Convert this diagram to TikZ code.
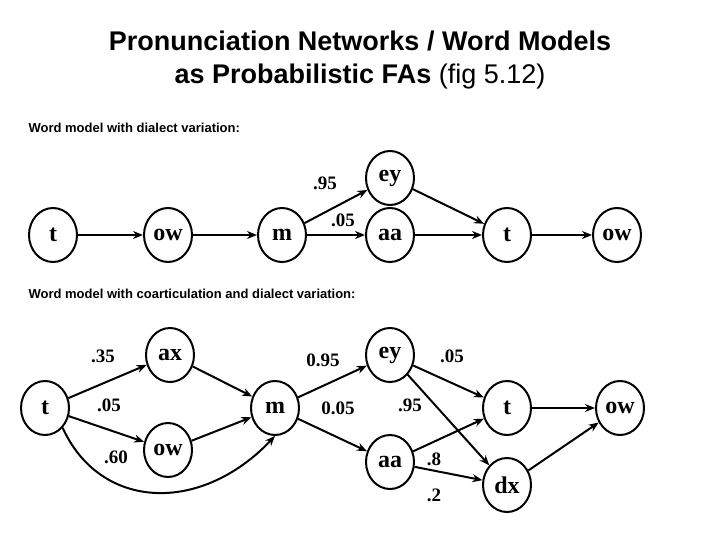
\documentclass[tikz,border=0pt]{standalone}
\usepackage{fontspec}
\setmainfont{Liberation Serif}
\newfontfamily\sans{Liberation Sans}
\usetikzlibrary{arrows.meta,shapes.geometric}
\begin{document}
\begin{tikzpicture}[x=1pt,y=-1pt,
  st/.style={draw,line width=2pt,ellipse,minimum width=48pt,minimum height=54pt,inner sep=0pt,font=\fontsize{24}{24}\selectfont\bfseries},
  pr/.style={font=\fontsize{19}{19}\selectfont\bfseries},
  tr/.style={-{Stealth[length=10pt,width=8pt]},line width=2pt}]
\useasboundingbox (0,0) rectangle (720,540);
\node[font=\sans\bfseries\fontsize{27}{33}\selectfont,align=center] (title) at (360,60) {Pronunciation Networks / Word Models\\as Probabilistic FAs {\mdseries (fig 5.12)}};
\node[anchor=west,font=\sans\bfseries\fontsize{13}{13}\selectfont] (cap1) at (25,128) {Word model with dialect variation:};
\node[anchor=west,font=\sans\bfseries\fontsize{13}{13}\selectfont] (cap2) at (25,294) {Word model with coarticulation and dialect variation:};
% dialect variation
\node[st] (a1) at (53,235) {t};
\node[st] (a2) at (168,235) {ow};
\node[st] (a3) at (282,235) {m};
\node[st] (a4) at (390,178) {ey};
\node[st] (a5) at (390,235) {aa};
\node[st] (a6) at (507,235) {t};
\node[st] (a7) at (617,235) {ow};
\draw[tr] (a1) -- (a2);
\draw[tr] (a2) -- (a3);
\draw[tr] (a3) -- (a4);
\draw[tr] (a3) -- (a5);
\draw[tr] (a4) -- (a6);
\draw[tr] (a5) -- (a6);
\draw[tr] (a6) -- (a7);
\node[pr] (p1) at (325,183) {.95};
\node[pr] (p2) at (343,220) {.05};
% coarticulation and dialect variation
\node[st] (b1) at (45,408) {t};
\node[st] (b2) at (170,355) {ax};
\node[st] (b3) at (168,450) {ow};
\node[st] (b4) at (275,408) {m};
\node[st] (b5) at (390,355) {ey};
\node[st] (b6) at (390,462) {aa};
\node[st] (b7) at (507,408) {t};
\node[st] (b8) at (507,485) {dx};
\node[st] (b9) at (620,408) {ow};
\draw[tr] (b1) -- (b2);
\draw[tr] (b1) -- (b3);
\draw[tr] (b1.south east) .. controls (100,510) and (200,515) .. (b4.south);
\draw[tr] (b2) -- (b4);
\draw[tr] (b3) -- (b4);
\draw[tr] (b4) -- (b5);
\draw[tr] (b4) -- (b6);
\draw[tr] (b5) -- (b7);
\draw[tr] (b5) -- (b8);
\draw[tr] (b6) -- (b7);
\draw[tr] (b6) -- (b8);
\draw[tr] (b7) -- (b9);
\draw[tr] (b8) -- (b9);
\node[pr] (q1) at (103,356) {.35};
\node[pr] (q2) at (109,405) {.05};
\node[pr] (q3) at (116,457) {.60};
\node[pr] (q4) at (323,360) {0.95};
\node[pr] (q5) at (338,408) {0.05};
\node[pr] (q6) at (452,356) {.05};
\node[pr] (q7) at (410,405) {.95};
\node[pr] (q8) at (434,459) {.8};
\node[pr] (q9) at (434,495) {.2};
\end{tikzpicture}
\end{document}
